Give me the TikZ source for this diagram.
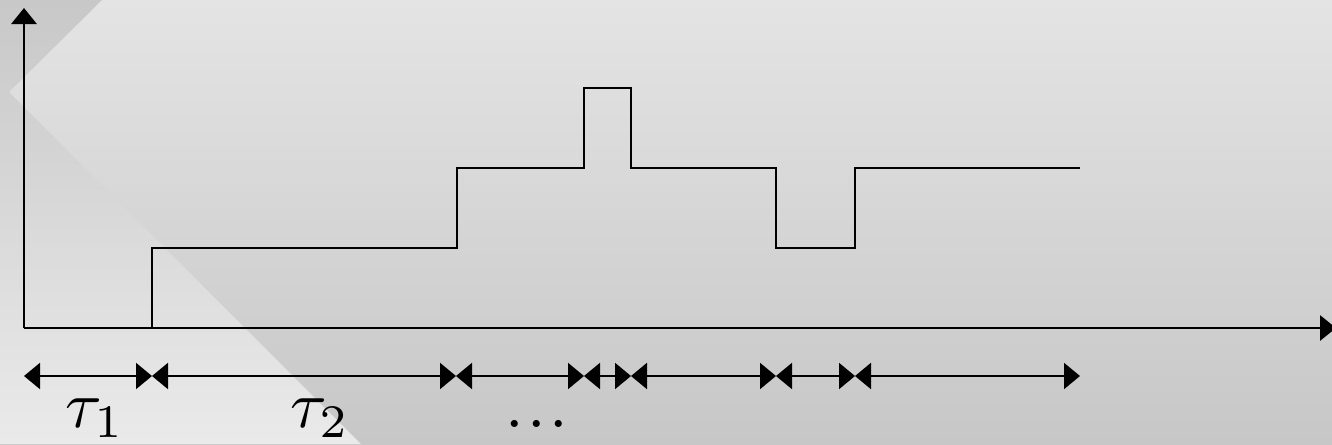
\documentclass[tikz,border=0pt]{standalone}
\usetikzlibrary{arrows.meta}
\definecolor{bgtop}{HTML}{E4E4E4}
\definecolor{bgbot}{HTML}{C7C7C7}
\definecolor{wgtop}{HTML}{C8C8C8}
\definecolor{wgbot}{HTML}{EAEAEA}
\tikzset{
  axis/.style={line width=1.5pt,-{Triangle[length=12pt,width=19pt]}},
  signal/.style={line width=1.5pt},
  dim/.style={line width=1.5pt,{Triangle[length=12pt,width=19.5pt]}-{Triangle[length=12pt,width=19.5pt]}},
  lbl/.style={anchor=base,inner sep=0pt}
}
\newcommand{\bigmath}[1]{\scalebox{5}{$#1$}}
\begin{document}
\begin{tikzpicture}[x=0.75pt,y=-0.75pt]
\useasboundingbox (0,0) rectangle (1332,444);
% background
\shade[top color=bgtop,bottom color=bgbot] (0,0) rectangle (1332,444);
\shade[top color=wgtop,bottom color=wgbot] (0,0) -- (102,0) -- (9,92) -- (361,444) -- (0,444) -- cycle;
% axes
\coordinate (O) at (24,328);
\coordinate (Ytip) at (24,8);
\coordinate (Xtip) at (1336,328);
\draw[axis] (O) -- (Ytip);
\draw[axis] (O) -- (Xtip);
% signal
\draw[signal] (152,328) -- (152,248) -- (457,248) -- (457,168) -- (584,168) -- (584,88)
  -- (631,88) -- (631,168) -- (776,168) -- (776,248) -- (855,248) -- (855,168) -- (1080,168);
% interval markers
\coordinate (d0) at (24,376);
\coordinate (d1) at (152,376);
\coordinate (d2) at (456,376);
\coordinate (d3) at (584,376);
\coordinate (d4) at (631,376);
\coordinate (d5) at (776,376);
\coordinate (d6) at (855,376);
\coordinate (d7) at (1080,376);
\draw[dim] (d0) -- (d1);
\draw[dim] (d1) -- (d2);
\draw[dim] (d2) -- (d3);
\draw[dim] (d3) -- (d4);
\draw[dim] (d4) -- (d5);
\draw[dim] (d5) -- (d6);
\draw[dim] (d6) -- (d7);
% labels
\node[lbl] (t1) at (95,427) {\bigmath{\tau_1}};
\node[lbl] (t2) at (320,427) {\bigmath{\tau_2}};
\node[lbl] (dots) at (537,427) {\bigmath{.\kern0.55pt.\kern0.55pt.}};
\end{tikzpicture}
\end{document}
